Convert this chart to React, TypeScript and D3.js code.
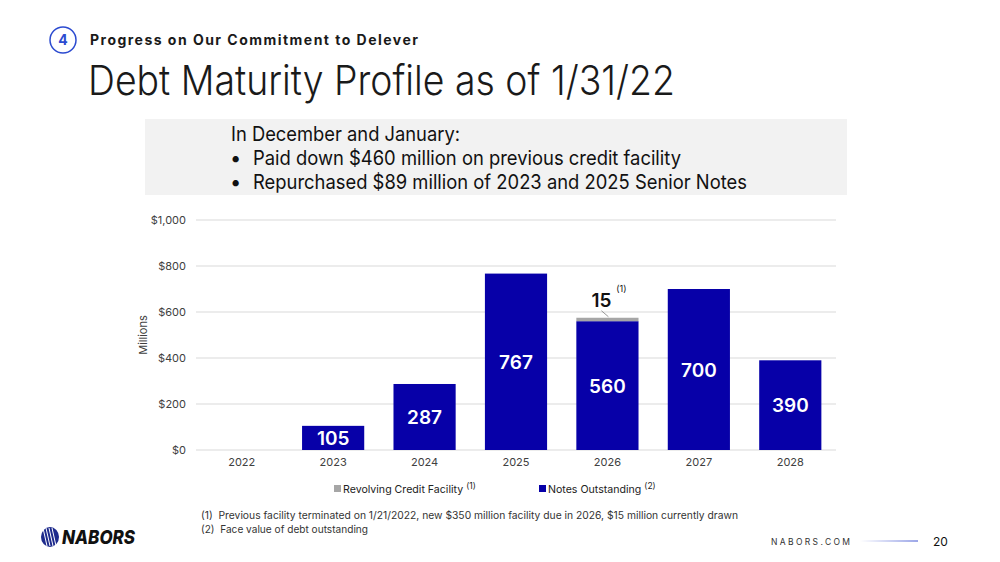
import React from "react";
import * as d3 from "d3";

const years = ["2022", "2023", "2024", "2025", "2026", "2027", "2028"];
const notesOutstanding = [0, 105, 287, 767, 560, 700, 390];
const revolvingFacility = [0, 0, 0, 0, 15, 0, 0];
const yTicks = [0, 200, 400, 600, 800, 1000];
const bullets = [
  "Paid down $460 million on previous credit facility",
  "Repurchased $89 million of 2023 and 2025 Senior Notes",
];
const footnotes = [
  "(1)  Previous facility terminated on 1/21/2022, new $350 million facility due in 2026, $15 million currently drawn",
  "(2)  Face value of debt outstanding",
];

const BLUE = "#0700a8";
const GRAY = "#a6a6a6";
const FONT = "Inter, 'Noto Sans', sans-serif";

export default function App() {
  const W = 1000, H = 562;
  const x = d3.scaleBand<string>().domain(years).range([196, 836]).paddingInner(0.32).paddingOuter(0.16);
  const y = d3.scaleLinear().domain([0, 1000]).range([450, 220]);
  const bw = x.bandwidth();
  const fmt = (v: number) => "$" + d3.format(",")(v);
  const bulletLen = [428, 494];
  const footLen = [537, 167];

  return (
    <svg width={W} height={H} style={{ position: "absolute", left: 0, top: 0, background: "#fff" }} fontFamily={FONT}>
      <defs>
        <linearGradient id="lineGrad" gradientUnits="userSpaceOnUse" x1={860} x2={918} y1={0} y2={0}>
          <stop offset="0" stopColor="#ffffff" />
          <stop offset="1" stopColor="#3a4fd0" />
        </linearGradient>
      </defs>
      <rect width={W} height={H} fill="#fff" />
      {/* Header */}
      <circle cx={63} cy={40} r={13} fill="none" stroke="#2c4bd0" strokeWidth={1.5} />
      <text x={63} y={45} textAnchor="middle" fontSize={14} fontWeight={700} fill="#2c4bd0">4</text>
      <text x={90} y={45} fontSize={14} fontWeight={700} fill="#1a1a1a" textLength={328} lengthAdjust="spacing">Progress on Our Commitment to Delever</text>
      <text x={88} y={95} fontSize={41} fontWeight={300} fill="#1a1a1a" textLength={587} lengthAdjust="spacingAndGlyphs">Debt Maturity Profile as of 1/31/22</text>

      {/* Gray box */}
      <rect x={145} y={119} width={702} height={76} fill="#f2f2f2" />
      <text x={231} y={141} fontSize={20} fill="#111" textLength={229} lengthAdjust="spacingAndGlyphs">In December and January:</text>
      {bullets.map((b, i) => (
        <g key={i}>
          <text x={230} y={165 + i * 24} fontSize={20} fill="#111">•</text>
          <text x={253} y={165 + i * 24} fontSize={20} fill="#111" textLength={bulletLen[i]} lengthAdjust="spacingAndGlyphs">{b}</text>
        </g>
      ))}

      {/* Grid & y axis */}
      {yTicks.map((t) => (
        <g key={t}>
          <line x1={196} x2={836} y1={y(t)} y2={y(t)} stroke="#d9d9d9" strokeWidth={1} />
          <text x={186} y={y(t) + 4} textAnchor="end" fontSize={11} fill="#404040">{fmt(t)}</text>
        </g>
      ))}
      <text transform={`translate(147,335) rotate(-90)`} textAnchor="middle" fontSize={11} fill="#404040">Millions</text>

      {/* Bars */}
      {years.map((yr, i) => {
        const n = notesOutstanding[i];
        const r = revolvingFacility[i];
        const bx = x(yr)!;
        return (
          <g key={yr}>
            {n > 0 && <rect x={bx} y={y(n)} width={bw} height={y(0) - y(n)} fill={BLUE} />}
            {r > 0 && <rect x={bx} y={y(n + r)} width={bw} height={y(n) - y(n + r)} fill={GRAY} />}
            {n > 0 && (
              <text x={bx + bw / 2} y={(y(n) + y(0)) / 2 + 7} textAnchor="middle" fontSize={19} fontWeight={600} fill="#fff">{n}</text>
            )}
            {r > 0 && (
              <g>
                <line x1={bx + bw / 2 - 6} y1={y(n + r) - 7} x2={bx + bw / 2 + 1} y2={y(n + r) - 1} stroke="#808080" strokeWidth={0.8} />
                <text x={bx + bw / 2 - 6} y={y(n + r) - 11} textAnchor="middle" fontSize={19} fontWeight={600} fill="#111">{r}</text>
                <text x={bx + bw / 2 + 14} y={y(n + r) - 26} textAnchor="middle" fontSize={9} fill="#111">(1)</text>
              </g>
            )}
            <text x={bx + bw / 2} y={466} textAnchor="middle" fontSize={11} fill="#404040">{yr}</text>
          </g>
        );
      })}

      {/* Legend */}
      <rect x={334} y={485} width={7} height={7} fill={GRAY} />
      <text x={343} y={493} fontSize={10.6} fill="#222">
        Revolving Credit Facility
        <tspan dx={3} dy={-4} fontSize={8.5}>(1)</tspan>
      </text>
      <rect x={539} y={485} width={7} height={7} fill={BLUE} />
      <text x={548} y={493} fontSize={10.6} fill="#222">
        Notes Outstanding
        <tspan dx={3} dy={-4} fontSize={8.5}>(2)</tspan>
      </text>

      {/* Footnotes */}
      {footnotes.map((f, i) => (
        <text key={i} x={201} y={519 + i * 14} fontSize={10.5} fill="#333" style={{ whiteSpace: "pre" }} textLength={footLen[i]} lengthAdjust="spacingAndGlyphs">{f}</text>
      ))}

      {/* Logo */}
      <g>
        <ellipse cx={50} cy={537} rx={9} ry={10} fill="#1d2a8c" />
        {[-5, -2, 1, 4].map((d) => (
          <line key={d} x1={50 + d - 2} y1={528} x2={50 + d + 2} y2={546} stroke="#fff" strokeWidth={1} />
        ))}
        <text x={62} y={544} fontSize={19} fontWeight={800} fontStyle="italic" fill="#111" textLength={73} lengthAdjust="spacingAndGlyphs">NABORS</text>
      </g>

      {/* Footer */}
      <text x={771} y={545} fontSize={8.5} fill="#333" textLength={79} lengthAdjust="spacing">NABORS.COM</text>
      <line x1={860} x2={918} y1={541} y2={541} stroke="url(#lineGrad)" strokeWidth={1.2} />
      <text x={933} y={546} fontSize={12} fill="#111">20</text>
    </svg>
  );
}
